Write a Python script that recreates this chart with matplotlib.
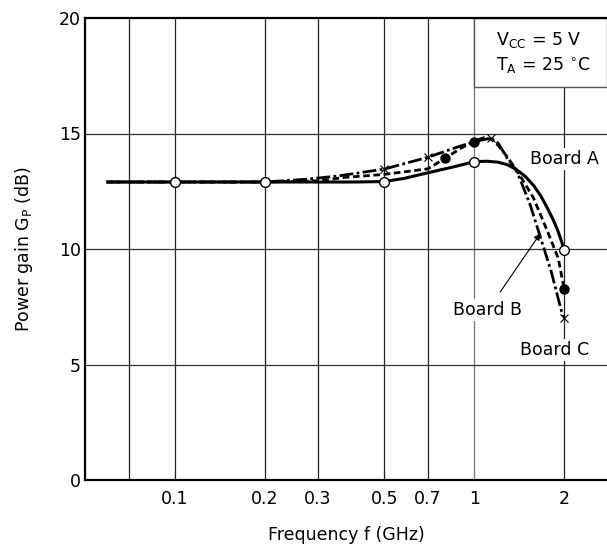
import matplotlib
matplotlib.use('Agg')
import matplotlib.pyplot as plt
from matplotlib.patches import Rectangle

plt.rcParams['font.family'] = ['DejaVu Sans']
plt.rcParams['mathtext.default'] = 'regular'

# curve points (frequency GHz, gain dB)
a_freq = [0.059, 0.1, 0.2, 0.3, 0.4, 0.5, 0.585, 0.7, 0.85, 1.0, 1.1, 1.2, 1.29, 1.38, 1.48, 1.58, 1.67, 1.76, 1.84, 1.91, 2.0]
a_gain = [12.9, 12.9, 12.9, 12.9, 12.9, 12.92, 13.06, 13.3, 13.55, 13.78, 13.8, 13.76, 13.65, 13.45, 13.15, 12.75, 12.3, 11.75, 11.25, 10.75, 9.97]
b_freq = [0.059, 0.2, 0.3, 0.37, 0.5, 0.7, 0.8, 0.9, 1.0, 1.08, 1.14, 1.2, 1.3, 1.42, 1.58, 1.76, 1.91, 2.0]
b_gain = [12.9, 12.9, 12.95, 13.1, 13.23, 13.47, 13.93, 14.35, 14.68, 14.82, 14.75, 14.5, 13.93, 13.2, 12.2, 10.75, 9.6, 8.25]
c_freq = [0.059, 0.2, 0.275, 0.35, 0.5, 0.7, 0.85, 1.0, 1.14, 1.205, 1.29, 1.38, 1.42, 1.54, 1.67, 1.81, 1.96, 2.0]
c_gain = [12.9, 12.9, 13.02, 13.16, 13.46, 13.97, 14.35, 14.65, 14.8, 14.57, 13.93, 13.42, 13.06, 11.9, 10.46, 9.02, 7.29, 7.03]

# measured points (markers)
a_mark_f = [0.1, 0.2, 0.5, 1.0, 2.0]
a_mark_g = [12.9, 12.9, 12.9, 13.78, 9.97]
b_mark_f = [0.8, 1.0, 2.0]
b_mark_g = [13.93, 14.65, 8.25]
c_mark_f = [0.5, 0.7, 1.14, 2.0]
c_mark_g = [13.47, 13.97, 14.8, 7.03]

x_ticks = [0.1, 0.2, 0.3, 0.5, 0.7, 1, 2]
x_tick_labels = ['0.1', '0.2', '0.3', '0.5', '0.7', '1', '2']
x_grid = [0.07, 0.1, 0.2, 0.3, 0.5, 0.7, 1, 2]
y_ticks = [0, 5, 10, 15, 20]

fs = 12.5

fig = plt.figure(figsize=(6.07, 5.46), dpi=100)
ax = fig.add_axes([85 / 607, 66 / 546, 522 / 607, 462 / 546])
ax.set_xscale('log')
x_max = 2.78
ax.set_xlim(0.05, x_max)
ax.set_ylim(0, 20)

# grid
for xv in x_grid:
    ax.axvline(xv, color='#777777' if xv == 1 else '#222222', lw=0.9, zorder=1)
for yv in [5, 10, 15]:
    ax.axhline(yv, color='#333333', lw=0.9, zorder=1)

# condition box
ax.add_patch(Rectangle((1, 17), x_max - 1, 3, facecolor='white', edgecolor='#555555', lw=1.0, zorder=2))
ax.text(1.186, 19.05, r'V$_{CC}$ = 5 V', fontsize=fs, va='center', ha='left', zorder=5)
ax.text(1.186, 17.97, r'T$_{A}$ = 25 $^{\circ}$C', fontsize=fs, va='center', ha='left', zorder=5)

# curves
ax.plot(a_freq, a_gain, color='black', lw=2.2, solid_capstyle='butt', zorder=3)
ax.plot(b_freq, b_gain, color='black', lw=2.0, linestyle=(0, (2.4, 1.3)), zorder=3)
ax.plot(c_freq, c_gain, color='black', lw=2.0, linestyle=(0, (5, 1.2, 1, 1.2)), zorder=3)

ax.plot(a_mark_f, a_mark_g, 'o', ms=7, mfc='white', mec='black', mew=1.0, zorder=4, clip_on=False)
ax.plot(b_mark_f, b_mark_g, 'o', ms=6.5, mfc='black', mec='black', zorder=4)
ax.plot(c_mark_f, c_mark_g, 'x', ms=6, mec='black', mew=0.8, zorder=4)

# labels
bg = dict(facecolor='white', edgecolor='none', pad=1.5)
ax.text(1.54, 13.88, 'Board A', fontsize=fs, ha='left', va='center', bbox=bg, zorder=5)
ax.text(1.425, 5.63, 'Board C', fontsize=fs, ha='left', va='center', bbox=bg, zorder=5)
ax.annotate('Board B', xy=(1.666, 10.68), xytext=(1.111, 7.36), fontsize=fs,
            ha='center', va='center', bbox=bg, zorder=5,
            arrowprops=dict(arrowstyle='-|>', color='black', lw=0.8, mutation_scale=10, shrinkA=6, shrinkB=0))

ax.set_xticks(x_ticks)
ax.set_xticklabels(x_tick_labels)
ax.xaxis.set_minor_locator(matplotlib.ticker.NullLocator())
ax.set_yticks(y_ticks)
ax.tick_params(axis='both', length=0, labelsize=fs)
ax.tick_params(axis='x', pad=7)
ax.tick_params(axis='y', pad=3)

ax.set_xlabel('Frequency f (GHz)', fontsize=fs, labelpad=13)
ax.set_ylabel(r'Power gain G$_{P}$ (dB)', fontsize=fs, labelpad=17)

for side in ['left', 'bottom', 'top']:
    ax.spines[side].set_linewidth(1.6)
ax.spines['right'].set_visible(False)

fig.savefig('out.png', dpi=100)
